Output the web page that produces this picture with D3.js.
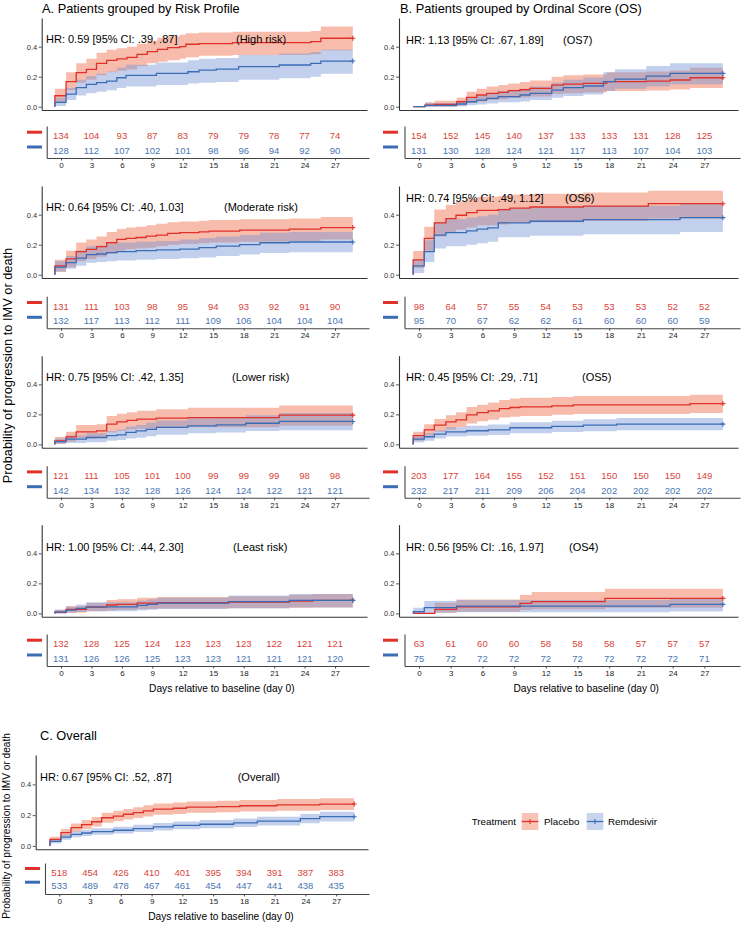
<!DOCTYPE html>
<html><head><meta charset="utf-8">
<script src="https://cdn.jsdelivr.net/npm/d3@7"></script>
<style>
body{margin:0;background:#fff}
svg{display:block}
text{font-family:"Liberation Sans",Arial,Helvetica,sans-serif}
</style>
</head><body>
<svg id="chart" width="745" height="925"></svg>
<script>
// ---------------- DATA ----------------
const dayTicks = [0,3,6,9,12,15,18,21,24,27];
const probTicks = [0, 0.2, 0.4];
const followUpEnd = 28.75;
const arms = ["Placebo", "Remdesivir"];

// step curves: [day, estimate, lower CI, upper CI]
const highRiskPlacebo = [[-0.6,.073,.03,.12],[0.5,.167,.11,.23],[1.5,.227,.16,.29],[2.5,.249,.18,.32],[3.5,.289,.21,.36],[4.5,.309,.23,.38],[5.5,.318,.24,.39],[6.5,.329,.25,.40],[7.5,.349,.27,.42],[8.5,.367,.29,.44],[9.5,.382,.30,.46],[10.5,.393,.31,.47],[11.7,.40,.32,.48],[12.3,.416,.33,.49],[13.6,.42,.34,.495],[16.9,.427,.345,.50],[24.6,.433,.35,.505],[25.6,.456,.375,.535]];
const highRiskRemdesivir = [[-0.6,.029,.005,.06],[0.5,.084,.045,.125],[1.5,.127,.075,.18],[2.5,.149,.09,.205],[3.5,.16,.10,.22],[4.5,.171,.11,.235],[5.5,.193,.125,.26],[6.4,.209,.135,.28],[9.4,.222,.145,.295],[12.5,.233,.155,.31],[13.6,.244,.16,.32],[15.3,.25,.165,.325],[17.5,.267,.18,.345],[21.5,.278,.19,.355],[24.6,.289,.20,.365],[25.6,.304,.22,.38]];

const moderateRiskPlacebo = [[-0.6,.059,.02,.10],[0.5,.105,.05,.16],[1.5,.154,.09,.215],[2.5,.169,.105,.235],[3.5,.187,.12,.255],[4.5,.213,.14,.285],[5.5,.235,.16,.305],[6.4,.242,.17,.315],[7.4,.248,.175,.32],[8.4,.257,.18,.33],[9.4,.264,.19,.34],[10.5,.275,.20,.35],[11.7,.281,.205,.355],[13.6,.286,.21,.36],[14.6,.29,.215,.365],[17.6,.297,.22,.37],[22.5,.303,.225,.375],[25.6,.314,.235,.385]];
const moderateRiskRemdesivir = [[-0.6,.05,.02,.09],[0.5,.081,.04,.125],[1.5,.11,.06,.16],[2.5,.134,.08,.19],[3.5,.138,.085,.195],[4.5,.147,.09,.205],[5.5,.154,.095,.215],[7.4,.16,.10,.22],[9.4,.165,.105,.225],[11.7,.171,.11,.235],[13.6,.18,.115,.245],[15.3,.19,.125,.255],[17.6,.20,.135,.265],[19.6,.213,.145,.28],[22.5,.218,.15,.285]];

const lowerRiskPlacebo = [[-0.6,.024,.005,.05],[0.5,.05,.02,.085],[1.5,.084,.04,.13],[3.5,.09,.045,.135],[4.5,.135,.08,.19],[5.5,.15,.09,.205],[6.5,.16,.10,.215],[7.5,.168,.105,.225],[9.4,.175,.11,.235],[12.5,.179,.115,.245],[21.5,.195,.125,.26]];
const lowerRiskRemdesivir = [[-0.6,.018,.002,.04],[0.5,.035,.01,.06],[2.5,.046,.015,.075],[4.5,.058,.025,.09],[5.5,.064,.03,.10],[6.4,.08,.04,.12],[7.4,.09,.045,.13],[8.4,.10,.055,.145],[9.4,.113,.065,.16],[12.5,.124,.075,.175],[15.3,.13,.08,.18],[18.2,.141,.09,.195],[21.5,.153,.095,.21]];

const leastRiskPlacebo = [[-0.6,.009,0,.025],[0.5,.027,.005,.05],[2.5,.042,.015,.07],[4.5,.056,.02,.09],[5.5,.06,.025,.095],[7.5,.069,.03,.105],[9.5,.071,.032,.11],[16.5,.076,.035,.115],[22.5,.082,.038,.125],[24.8,.087,.04,.13]];
const leastRiskRemdesivir = [[-0.6,.009,0,.025],[0.5,.022,.004,.045],[1.5,.033,.01,.06],[2.5,.044,.015,.075],[7.5,.053,.02,.085],[8.5,.06,.025,.095],[9.5,.069,.03,.105],[16.5,.078,.035,.12],[22.5,.087,.04,.13]];

const os7Placebo = [[-0.55,0,0,0],[0.57,.011,0,.03],[1.5,.016,0,.04],[3.56,.033,.008,.06],[4.5,.062,.025,.10],[5.46,.078,.035,.12],[6.4,.089,.045,.135],[7.5,.096,.05,.145],[8.45,.107,.058,.155],[9.56,.113,.062,.165],[10.5,.122,.068,.175],[12.56,.144,.085,.20],[13.66,.151,.09,.21],[15.55,.156,.095,.215],[17.76,.167,.105,.23],[21.5,.171,.108,.235],[23.75,.178,.114,.242],[25.65,.193,.125,.26]];
const os7Remdesivir = [[-0.55,0,0,0],[0.57,.009,0,.025],[3.56,.018,.002,.04],[4.5,.033,.01,.06],[5.46,.044,.015,.075],[6.4,.056,.022,.09],[7.5,.067,.03,.105],[9.56,.078,.035,.12],[10.5,.089,.045,.135],[12.56,.111,.06,.16],[13.66,.127,.072,.18],[15.55,.138,.082,.195],[17.45,.167,.105,.23],[18.55,.184,.12,.25],[21.5,.204,.135,.272],[23.75,.222,.15,.29]];

const os6Placebo = [[-0.55,.099,.045,.158],[0.5,.242,.16,.32],[1.45,.345,.255,.435],[2.55,.374,.28,.465],[3.5,.396,.30,.49],[4.5,.413,.315,.505],[5.5,.429,.33,.52],[7.5,.433,.335,.525],[8.6,.444,.345,.535],[10.5,.451,.35,.54],[15.55,.457,.357,.547],[21.7,.473,.375,.56]];
const os6Remdesivir = [[-0.55,.059,.012,.10],[0.5,.154,.085,.23],[1.45,.264,.175,.35],[2.55,.281,.19,.37],[4.5,.292,.20,.38],[5.5,.303,.21,.39],[6.5,.312,.22,.40],[7.5,.345,.25,.44],[10.5,.356,.26,.45],[15.55,.367,.27,.46],[24.7,.38,.285,.473]];

const os5Placebo = [[-0.55,.058,.025,.085],[0.5,.097,.06,.135],[1.45,.128,.085,.17],[2.55,.15,.10,.195],[3.5,.164,.115,.215],[4.5,.197,.14,.25],[5.5,.212,.155,.265],[6.55,.223,.165,.28],[7.6,.239,.18,.295],[8.6,.246,.185,.305],[9.56,.25,.19,.31],[12.56,.257,.197,.315],[14.6,.263,.203,.322],[25.65,.272,.21,.33]];
const os5Remdesivir = [[-0.55,.035,.015,.055],[0.5,.051,.025,.075],[1.45,.069,.04,.095],[2.55,.084,.052,.115],[4.5,.091,.058,.125],[6.55,.097,.062,.132],[8.6,.111,.075,.148],[12.56,.12,.082,.158],[15.55,.128,.088,.168],[18.7,.135,.094,.176]];

const os4Placebo = [[-0.55,0,0,.005],[1.5,.027,.004,.071],[3.56,.044,.011,.093],[9.56,.067,.022,.122],[10.66,.078,.027,.142],[17.6,.10,.038,.164]];
const os4Remdesivir = [[-0.55,.011,0,.038],[0.5,.038,.005,.082],[3.56,.049,.008,.09],[23.75,.06,.012,.10]];

const overallPlacebo = [[-0.91,.042,.025,.06],[0.16,.086,.063,.11],[1.14,.119,.092,.146],[2.18,.139,.11,.168],[3.16,.157,.126,.188],[4.13,.183,.15,.215],[5.27,.194,.16,.228],[6.25,.206,.171,.24],[7.22,.217,.182,.252],[8.2,.228,.192,.264],[9.17,.239,.202,.275],[11.1,.245,.208,.282],[12.4,.252,.215,.289],[15.35,.256,.219,.293],[17.6,.261,.224,.298],[21.2,.267,.229,.305],[25.4,.272,.234,.31]];
const overallRemdesivir = [[-0.91,.029,.015,.043],[0.16,.057,.04,.075],[1.14,.075,.056,.095],[2.18,.084,.064,.105],[3.16,.093,.072,.115],[5.27,.102,.08,.125],[7.22,.113,.09,.137],[9.17,.124,.10,.149],[11.1,.133,.108,.159],[13.7,.141,.115,.168],[17.0,.15,.123,.178],[19.3,.161,.133,.19],[23.5,.177,.147,.207],[25.4,.19,.158,.222]];

// numbers at risk at dayTicks
const highRiskAtRiskPlacebo = [134,104,93,87,83,79,79,78,77,74];
const highRiskAtRiskRemdesivir = [128,112,107,102,101,98,96,94,92,90];
const moderateRiskAtRiskPlacebo = [131,111,103,98,95,94,93,92,91,90];
const moderateRiskAtRiskRemdesivir = [132,117,113,112,111,109,106,104,104,104];
const lowerRiskAtRiskPlacebo = [121,111,105,101,100,99,99,99,98,98];
const lowerRiskAtRiskRemdesivir = [142,134,132,128,126,124,124,122,121,121];
const leastRiskAtRiskPlacebo = [132,128,125,124,123,123,123,122,121,121];
const leastRiskAtRiskRemdesivir = [131,126,126,125,123,123,121,121,121,120];
const os7AtRiskPlacebo = [154,152,145,140,137,133,133,131,128,125];
const os7AtRiskRemdesivir = [131,130,128,124,121,117,113,107,104,103];
const os6AtRiskPlacebo = [98,64,57,55,54,53,53,53,52,52];
const os6AtRiskRemdesivir = [95,70,67,62,62,61,60,60,60,59];
const os5AtRiskPlacebo = [203,177,164,155,152,151,150,150,150,149];
const os5AtRiskRemdesivir = [232,217,211,209,206,204,202,202,202,202];
const os4AtRiskPlacebo = [63,61,60,60,58,58,58,57,57,57];
const os4AtRiskRemdesivir = [75,72,72,72,72,72,72,72,72,71];
const overallAtRiskPlacebo = [518,454,426,410,401,395,394,391,387,383];
const overallAtRiskRemdesivir = [533,489,478,467,461,454,447,441,438,435];

const hrLabels = ["HR: 0.59 [95% CI: .39, .87]","HR: 0.64 [95% CI: .40, 1.03]","HR: 0.75 [95% CI: .42, 1.35]","HR: 1.00 [95% CI: .44, 2.30]",
                  "HR: 1.13 [95% CI: .67, 1.89]","HR: 0.74 [95% CI: .49, 1.12]","HR: 0.45 [95% CI: .29, .71]","HR: 0.56 [95% CI: .16, 1.97]",
                  "HR: 0.67 [95% CI: .52, .87]"];
const groupLabels = ["(High risk)","(Moderate risk)","(Lower risk)","(Least risk)","(OS7)","(OS6)","(OS5)","(OS4)","(Overall)"];
const sectionTitles = ["A. Patients grouped by Risk Profile","B. Patients grouped by Ordinal Score (OS)","C. Overall"];
const yTitle = "Probability of progression to IMV or death";
const xTitle = "Days relative to baseline (day 0)";

// ---------------- STYLE / LAYOUT ----------------
const lineCol = {Placebo:"#E0302A", Remdesivir:"#3A6DB5"};
const bandCol = {Placebo:"#EE6A48", Remdesivir:"#6F90D4"};
const bandOp = {Placebo:0.45, Remdesivir:0.42};
const numCol = {Placebo:"#D9443A", Remdesivir:"#4A76B2"};

const cols = {
  A:{xl:41.7, xr:367, xd:[-1.9,30.15], tAx:46.7, tR:369, dash:[27,42], hrX:46, tickX:38},
  B:{xl:399, xr:738, xd:[-1.89,30.18], tAx:404.5, tR:740, dash:[383,398], hrX:406, tickX:395.5},
  C:{xl:35.7, xr:368, xd:[-2.3,30.1], tAx:45, tR:369, dash:[25,40], hrX:40, tickX:32}
};
const yDom = [-0.022, 0.591];

const panels = [
  {col:"A", bottom:110, h:92, tl:158, hrV:0.45, gx:236, p:highRiskPlacebo, r:highRiskRemdesivir, np:highRiskAtRiskPlacebo, nr:highRiskAtRiskRemdesivir, k:0},
  {col:"A", bottom:278, h:92, tl:328.3, hrV:0.449, gx:224, p:moderateRiskPlacebo, r:moderateRiskRemdesivir, np:moderateRiskAtRiskPlacebo, nr:moderateRiskAtRiskRemdesivir, k:1},
  {col:"A", bottom:447.7, h:92, tl:497.7, hrV:0.447, gx:232, p:lowerRiskPlacebo, r:lowerRiskRemdesivir, np:lowerRiskAtRiskPlacebo, nr:lowerRiskAtRiskRemdesivir, k:2},
  {col:"A", bottom:616.7, h:92, tl:666, hrV:0.444, gx:233, p:leastRiskPlacebo, r:leastRiskRemdesivir, np:leastRiskAtRiskPlacebo, nr:leastRiskAtRiskRemdesivir, k:3, xt:true},
  {col:"B", bottom:110, h:92, tl:158, hrV:0.444, gx:563, p:os7Placebo, r:os7Remdesivir, np:os7AtRiskPlacebo, nr:os7AtRiskRemdesivir, k:4},
  {col:"B", bottom:278, h:92, tl:328.3, hrV:0.51, gx:565, p:os6Placebo, r:os6Remdesivir, np:os6AtRiskPlacebo, nr:os6AtRiskRemdesivir, k:5},
  {col:"B", bottom:447.7, h:92, tl:497.7, hrV:0.447, gx:582, p:os5Placebo, r:os5Remdesivir, np:os5AtRiskPlacebo, nr:os5AtRiskRemdesivir, k:6},
  {col:"B", bottom:616.7, h:92, tl:666, hrV:0.444, gx:569, p:os4Placebo, r:os4Remdesivir, np:os4AtRiskPlacebo, nr:os4AtRiskRemdesivir, k:7, xt:true},
  {col:"C", bottom:849.3, h:94.3, tl:894, hrV:0.45, gx:237.7, p:overallPlacebo, r:overallRemdesivir, np:overallAtRiskPlacebo, nr:overallAtRiskRemdesivir, k:8, xt:true, small:true}
];

const svg = d3.select("#chart");

function extend(arr){ const l = arr[arr.length-1]; return arr.concat([[followUpEnd, l[1], l[2], l[3]]]); }

panels.forEach(pn => {
  const c = cols[pn.col];
  const g = svg.append("g");
  const x = d3.scaleLinear().domain(c.xd).range([c.xl, c.xr]);
  const y = d3.scaleLinear().domain(yDom).range([pn.bottom, pn.bottom - pn.h]);
  const area = d3.area().curve(d3.curveStepAfter).x(d=>x(d[0])).y0(d=>y(d[2])).y1(d=>y(d[3]));
  const line = d3.line().curve(d3.curveStepAfter).x(d=>x(d[0])).y(d=>y(d[1]));
  const series = [["Placebo", pn.p], ["Remdesivir", pn.r]];
  series.forEach(([arm, data]) => {
    g.append("path").attr("d", area(extend(data))).attr("fill", bandCol[arm]).attr("fill-opacity", bandOp[arm]).attr("stroke","none");
  });
  series.forEach(([arm, data]) => {
    const pts = [[data[0][0], 0, 0, 0]].concat(extend(data));
    g.append("path").attr("d", line(pts)).attr("fill","none").attr("stroke", lineCol[arm]).attr("stroke-width",1.3);
    const l = data[data.length-1];
    const cx = x(followUpEnd), cy = y(l[1]);
    g.append("path").attr("d", `M${cx-2.5},${cy}H${cx+2.5}M${cx},${cy-2.5}V${cy+2.5}`).attr("stroke", lineCol[arm]).attr("stroke-width",1.1);
  });
  // axes
  const ya = g.append("g").attr("transform", `translate(${c.xl},0)`)
    .call(d3.axisLeft(y).tickValues(probTicks).tickFormat(d3.format(".1f")).tickSize(3).tickSizeOuter(0));
  ya.select(".domain").attr("stroke","#333").attr("stroke-width",1.1);
  ya.selectAll(".tick line").attr("stroke","#555");
  ya.selectAll(".tick text").attr("font-family","'Liberation Serif','Times New Roman',serif").attr("font-size",7.5).attr("fill","#333").attr("x",-4.5);
  const xa = g.append("g").attr("transform", `translate(0,${pn.bottom})`)
    .call(d3.axisBottom(x).tickValues([]).tickSizeOuter(0));
  xa.select(".domain").attr("stroke","#333").attr("stroke-width",1.1);
  // annotations
  g.append("text").attr("x", c.hrX).attr("y", y(pn.hrV)).attr("dominant-baseline","central").attr("font-size",11).text(hrLabels[pn.k]);
  g.append("text").attr("x", pn.gx).attr("y", y(pn.hrV)).attr("dominant-baseline","central").attr("font-size",11).text(groupLabels[pn.k]);

  // risk table
  const xt = d3.scaleLinear().domain([x.invert(c.tAx), x.invert(c.tR)]).range([c.tAx, c.tR]);
  const tb = g.append("g").attr("transform", `translate(0,${pn.tl})`)
    .call(d3.axisBottom(xt).tickValues(dayTicks).tickSize(2.5).tickSizeOuter(0));
  tb.select(".domain").attr("stroke","#444").attr("stroke-width",1.1);
  tb.selectAll(".tick line").attr("stroke","#444");
  tb.selectAll(".tick text").attr("font-size",8).attr("fill","#222").attr("font-family","'Liberation Sans',Arial,sans-serif").attr("y",4.5);
  const ty = d3.scaleLinear().domain([0,1]).range([pn.tl, pn.tl - (pn.small ? 31 : 32)]);
  const tv = g.append("g").attr("transform", `translate(${c.tAx},0)`).call(d3.axisLeft(ty).tickValues([]).tickSizeOuter(0));
  tv.select(".domain").attr("stroke","#444").attr("stroke-width",1.1);
  const rowY = {Placebo: pn.tl - (pn.small ? 22 : 22.3), Remdesivir: pn.tl - (pn.small ? 8.3 : 7.5)};
  [["Placebo", pn.np], ["Remdesivir", pn.nr]].forEach(([arm, vals]) => {
    g.selectAll(null).data(vals).enter().append("text")
      .attr("x", (d,i)=>xt(dayTicks[i])).attr("y", rowY[arm]).attr("text-anchor","middle").attr("dominant-baseline","central")
      .attr("font-size",9.5).attr("fill", numCol[arm]).text(d=>d);
    g.append("line").attr("x1", c.dash[0]).attr("x2", c.dash[1]).attr("y1", rowY[arm]-3.5).attr("y2", rowY[arm]-3.5)
      .attr("stroke", lineCol[arm]).attr("stroke-width",3);
  });
  if (pn.xt) {
    g.append("text").attr("x", (c.tAx + c.tR)/2 + 14).attr("y", pn.tl + 22).attr("text-anchor","middle").attr("dominant-baseline","central")
      .attr("font-size",10.2).text(xTitle);
  }
});

// section titles
svg.append("text").attr("x",42).attr("y",8).attr("dominant-baseline","central").attr("font-size",12.8).text(sectionTitles[0]);
svg.append("text").attr("x",400).attr("y",8).attr("dominant-baseline","central").attr("font-size",12.8).text(sectionTitles[1]);
svg.append("text").attr("x",40).attr("y",735).attr("dominant-baseline","central").attr("font-size",12.8).text(sectionTitles[2]);

// y titles
svg.append("text").attr("transform","translate(7.5,365.5) rotate(-90)").attr("text-anchor","middle").attr("dominant-baseline","central").attr("font-size",12.8).text(yTitle);
svg.append("text").attr("transform","translate(6,826) rotate(-90)").attr("text-anchor","middle").attr("dominant-baseline","central").attr("font-size",10.1).text(yTitle);

// legend
const lg = svg.append("g");
lg.append("text").attr("x",471.7).attr("y",821).attr("dominant-baseline","central").attr("font-size",9.8).text("Treatment");
const keyX = {Placebo:521.7, Remdesivir:586.7};
const labX = {Placebo:544, Remdesivir:608};
arms.forEach(arm => {
  lg.append("rect").attr("x", keyX[arm]).attr("y", 813).attr("width",16.6).attr("height",17).attr("fill", bandCol[arm]).attr("fill-opacity", bandOp[arm]*0.9);
  lg.append("line").attr("x1", keyX[arm]).attr("x2", keyX[arm]+16.6).attr("y1",821.5).attr("y2",821.5).attr("stroke", lineCol[arm]).attr("stroke-width",1.3);
  lg.append("path").attr("d", `M${keyX[arm]+8.3-2.5},821.5H${keyX[arm]+8.3+2.5}M${keyX[arm]+8.3},819V824`).attr("stroke", lineCol[arm]).attr("stroke-width",1.1);
  lg.append("text").attr("x", labX[arm]).attr("y", 821).attr("dominant-baseline","central").attr("font-size",9.8).text(arm);
});
</script>
</body></html>
